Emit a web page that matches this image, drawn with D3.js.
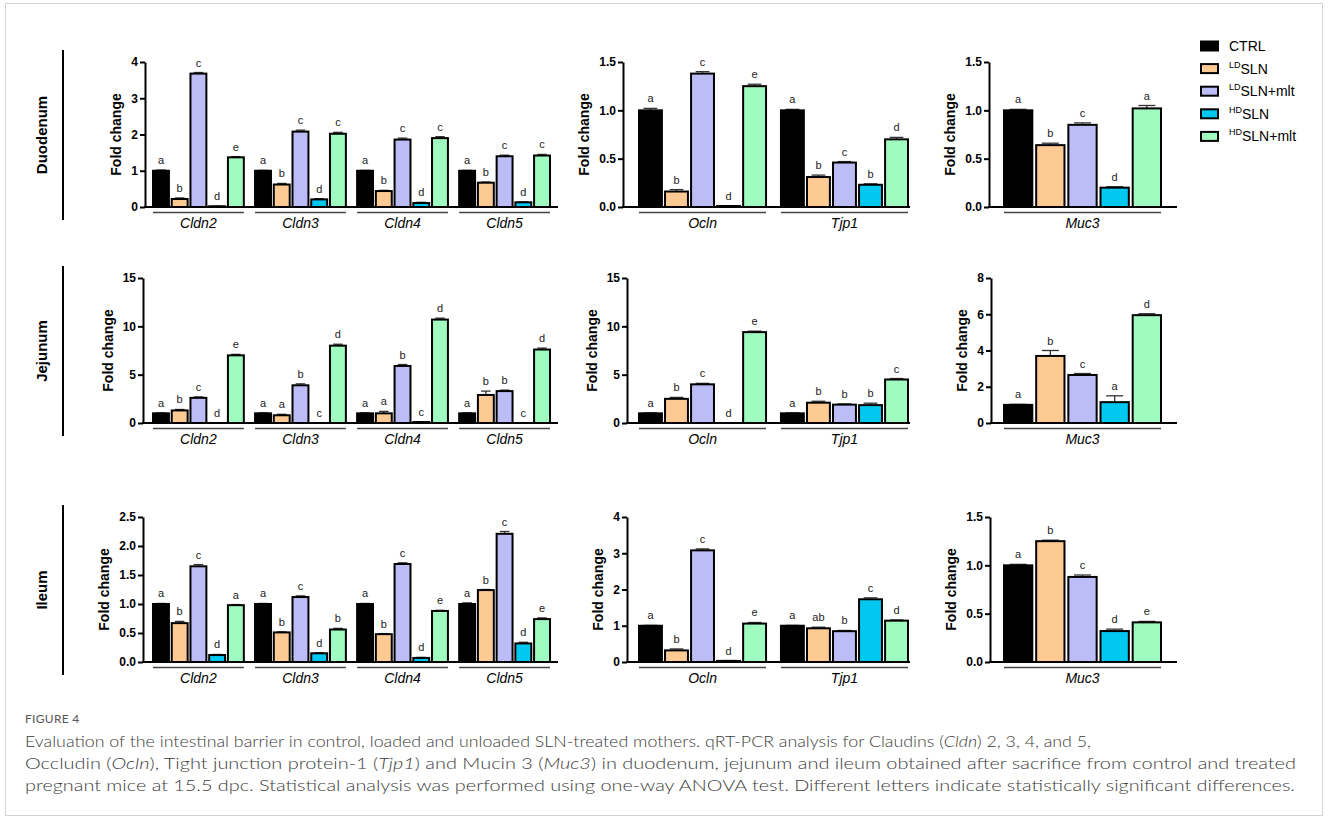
<!DOCTYPE html>
<html>
<head>
<meta charset="utf-8">
<script src="https://cdn.jsdelivr.net/npm/d3@7"></script>
<style>
  body { margin: 0; background: #fff; }
  svg text { font-family: Arial, "Liberation Sans", sans-serif; }
  .caption { font-family: Lato, "Open Sans", sans-serif; font-weight: 300; fill: #3c3c3c; }
</style>
</head>
<body>
<svg id="fig"></svg>
<script>
const W = 1328, H = 820;

const treatments = ['CTRL', 'LDSLN', 'LDSLN+mlt', 'HDSLN', 'HDSLN+mlt'];
const legendSup = ['', 'LD', 'LD', 'HD', 'HD'];
const legendBase = ['CTRL', 'SLN', 'SLN+mlt', 'SLN', 'SLN+mlt'];
const barColors = ['#000000', '#fdca94', '#bcbdf6', '#00c8f0', '#9ffbbf'];
const tissues = ['Duodenum', 'Jejunum', 'Ileum'];
const claudinGenes = ['Cldn2', 'Cldn3', 'Cldn4', 'Cldn5'];
const junctionGenes = ['Ocln', 'Tjp1'];
const mucinGenes = ['Muc3'];

// duodenum
const duoCldnMean = [[1.00, 0.22, 3.68, 0.02, 1.37], [1.00, 0.62, 2.08, 0.21, 2.02], [1.00, 0.44, 1.86, 0.11, 1.90], [1.00, 0.67, 1.40, 0.13, 1.42]];
const duoCldnErr = [[0.02, 0.03, 0.03, 0.00, 0.02], [0.01, 0.03, 0.04, 0.02, 0.04], [0.01, 0.02, 0.04, 0.02, 0.04], [0.01, 0.02, 0.03, 0.01, 0.03]];
const duoCldnLetters = [['a', 'b', 'c', 'd', 'e'], ['a', 'b', 'c', 'd', 'c'], ['a', 'b', 'c', 'd', 'c'], ['a', 'b', 'c', 'd', 'c']];
const duoJuncMean = [[1.00, 0.16, 1.38, 0.01, 1.25], [1.00, 0.31, 0.46, 0.23, 0.70]];
const duoJuncErr = [[0.02, 0.02, 0.02, 0.00, 0.02], [0.01, 0.02, 0.01, 0.01, 0.02]];
const duoJuncLetters = [['a', 'b', 'c', 'd', 'e'], ['a', 'b', 'c', 'b', 'd']];
const duoMucMean = [[1.00, 0.64, 0.85, 0.20, 1.02]];
const duoMucErr = [[0.01, 0.02, 0.02, 0.01, 0.03]];
const duoMucLetters = [['a', 'b', 'c', 'd', 'a']];

// jejunum
const jejCldnMean = [[1.0, 1.3, 2.6, 0.0, 7.0], [1.0, 0.8, 3.9, 0.0, 8.0], [1.0, 1.0, 5.9, 0.1, 10.7], [1.0, 2.9, 3.3, 0.0, 7.6]];
const jejCldnErr = [[0.05, 0.1, 0.1, 0, 0.1], [0.05, 0.1, 0.15, 0, 0.15], [0.05, 0.2, 0.15, 0.02, 0.15], [0.05, 0.4, 0.1, 0, 0.15]];
const jejCldnLetters = [['a', 'b', 'c', 'd', 'e'], ['a', 'a', 'b', 'c', 'd'], ['a', 'a', 'b', 'c', 'd'], ['a', 'b', 'b', 'c', 'd']];
const jejJuncMean = [[1.0, 2.5, 4.0, 0.0, 9.4], [1.0, 2.1, 1.9, 1.85, 4.5]];
const jejJuncErr = [[0.05, 0.15, 0.1, 0, 0.1], [0.05, 0.15, 0.08, 0.2, 0.1]];
const jejJuncLetters = [['a', 'b', 'c', 'd', 'e'], ['a', 'b', 'b', 'b', 'c']];
const jejMucMean = [[1.0, 3.7, 2.65, 1.15, 5.95]];
const jejMucErr = [[0.03, 0.3, 0.08, 0.35, 0.08]];
const jejMucLetters = [['a', 'b', 'c', 'a', 'd']];

// ileum
const ileCldnMean = [[1.00, 0.67, 1.65, 0.12, 0.98], [1.00, 0.51, 1.12, 0.15, 0.56], [1.00, 0.48, 1.69, 0.07, 0.88], [1.00, 1.24, 2.21, 0.32, 0.74]];
const ileCldnErr = [[0.01, 0.03, 0.03, 0.01, 0.01], [0.01, 0.01, 0.02, 0.01, 0.02], [0.01, 0.01, 0.02, 0.01, 0.01], [0.02, 0.01, 0.04, 0.02, 0.02]];
const ileCldnLetters = [['a', 'b', 'c', 'd', 'a'], ['a', 'b', 'c', 'd', 'b'], ['a', 'b', 'c', 'd', 'e'], ['a', 'b', 'c', 'd', 'e']];
const ileJuncMean = [[1.00, 0.32, 3.08, 0.03, 1.06], [1.00, 0.93, 0.85, 1.73, 1.14]];
const ileJuncErr = [[0.01, 0.04, 0.04, 0.01, 0.03], [0.01, 0.03, 0.02, 0.04, 0.02]];
const ileJuncLetters = [['a', 'b', 'c', 'd', 'e'], ['a', 'ab', 'b', 'c', 'd']];
const ileMucMean = [[1.00, 1.25, 0.88, 0.32, 0.41]];
const ileMucErr = [[0.01, 0.01, 0.02, 0.02, 0.01]];
const ileMucLetters = [['a', 'b', 'c', 'd', 'e']];

// y ticks
const duoCldnTicks = [0, 1, 2, 3, 4];
const duoJuncTicks = [0, 0.5, 1, 1.5];
const duoMucTicks = [0, 0.5, 1, 1.5];
const jejCldnTicks = [0, 5, 10, 15];
const jejJuncTicks = [0, 5, 10, 15];
const jejMucTicks = [0, 2, 4, 6, 8];
const ileCldnTicks = [0, 0.5, 1, 1.5, 2, 2.5];
const ileJuncTicks = [0, 1, 2, 3, 4];
const ileMucTicks = [0, 0.5, 1, 1.5];

const captionLines = [
  ['Evaluation of the intestinal barrier in control, loaded and unloaded SLN-treated mothers. qRT-PCR analysis for Claudins (', '*Cldn', ') 2, 3, 4, and 5,'],
  ['Occludin (', '*Ocln', '), Tight junction protein-1 (', '*Tjp1', ') and Mucin 3 (', '*Muc3', ') in duodenum, jejunum and ileum obtained after sacrifice from control and treated'],
  ['pregnant mice at 15.5 dpc. Statistical analysis was performed using one-way ANOVA test. Different letters indicate statistically significant differences.']
];

// layout
const rowTop = [62, 278, 517];
const rowZero = [207, 423, 662];
const axisX = [[145, 623, 989], [143, 627, 991], [143, 627, 990]];
const axisEnd = [558, 910, 1177];
const bandRange = [[153, 550], [639, 908], [1004, 1161]];
const groupPad = [0.11, 0.105, 0];
const barPad = [0.15, 0.12, 0.12];

const svg = d3.select('#fig').attr('width', W).attr('height', H);

svg.append('rect')
  .attr('x', 5.5).attr('y', 3.5).attr('width', 1317).attr('height', 812)
  .attr('fill', 'none').attr('stroke', '#d4d4d4').attr('stroke-width', 1);

const panels = [
  [duoCldnMean, duoCldnErr, duoCldnLetters, claudinGenes, duoCldnTicks, 0, 0],
  [duoJuncMean, duoJuncErr, duoJuncLetters, junctionGenes, duoJuncTicks, 0, 1],
  [duoMucMean, duoMucErr, duoMucLetters, mucinGenes, duoMucTicks, 0, 2],
  [jejCldnMean, jejCldnErr, jejCldnLetters, claudinGenes, jejCldnTicks, 1, 0],
  [jejJuncMean, jejJuncErr, jejJuncLetters, junctionGenes, jejJuncTicks, 1, 1],
  [jejMucMean, jejMucErr, jejMucLetters, mucinGenes, jejMucTicks, 1, 2],
  [ileCldnMean, ileCldnErr, ileCldnLetters, claudinGenes, ileCldnTicks, 2, 0],
  [ileJuncMean, ileJuncErr, ileJuncLetters, junctionGenes, ileJuncTicks, 2, 1],
  [ileMucMean, ileMucErr, ileMucLetters, mucinGenes, ileMucTicks, 2, 2]
];

function drawPanel([means, errs, letters, genes, ticks, r, c]) {
  const g = svg.append('g');
  const zero = rowZero[r];
  const ax = axisX[r][c];
  const y = d3.scaleLinear().domain([0, d3.max(ticks)]).range([zero, rowTop[r]]);
  const x = d3.scaleBand().domain(genes).range(bandRange[c]).paddingInner(groupPad[c]);
  const xi = d3.scaleBand().domain(d3.range(treatments.length)).range([0, x.bandwidth()]).paddingInner(barPad[c]);
  const bw = xi.bandwidth();

  const rows = [];
  genes.forEach((gene, gi) => {
    treatments.forEach((t, ti) => {
      rows.push({ gene, ti, v: means[gi][ti], e: errs[gi][ti], l: letters[gi][ti] });
    });
  });

  // error bars (drawn first so the bar outline covers the base)
  const eb = g.selectAll('.err').data(rows).join('g').attr('class', 'err')
    .attr('stroke', '#333').attr('stroke-width', 1.3);
  eb.append('line')
    .attr('x1', d => x(d.gene) + xi(d.ti) + bw / 2).attr('x2', d => x(d.gene) + xi(d.ti) + bw / 2)
    .attr('y1', d => y(d.v)).attr('y2', d => y(d.v + d.e));
  eb.append('line')
    .attr('x1', d => x(d.gene) + xi(d.ti) + bw * 0.2).attr('x2', d => x(d.gene) + xi(d.ti) + bw * 0.8)
    .attr('y1', d => y(d.v + d.e)).attr('y2', d => y(d.v + d.e));

  g.selectAll('.bar').data(rows).join('rect').attr('class', 'bar')
    .attr('x', d => x(d.gene) + xi(d.ti))
    .attr('y', d => y(d.v))
    .attr('width', bw)
    .attr('height', d => zero - y(d.v))
    .attr('fill', d => barColors[d.ti])
    .attr('stroke', '#000').attr('stroke-width', 2);

  g.selectAll('.sig').data(rows).join('text').attr('class', 'sig')
    .attr('x', d => x(d.gene) + xi(d.ti) + bw / 2)
    .attr('y', d => y(d.v + d.e) - 6)
    .attr('text-anchor', 'middle').attr('font-size', 11).attr('fill', '#222')
    .text(d => d.l);

  // axes
  const yAxis = g.append('g').attr('transform', `translate(${ax},0)`)
    .call(d3.axisLeft(y).tickValues(ticks).tickSize(5).tickSizeOuter(0)
      .tickFormat(d3.max(ticks) < 3 ? d3.format('.1f') : d3.format('d')));
  yAxis.select('.domain').attr('stroke', '#000').attr('stroke-width', 2);
  yAxis.selectAll('.tick line').attr('stroke', '#000').attr('stroke-width', 2);
  yAxis.selectAll('.tick text').attr('font-size', 12).attr('font-weight', 'bold')
    .attr('font-family', 'Arial, "Liberation Sans", sans-serif').attr('fill', '#000').attr('x', -7);

  g.append('line').attr('x1', ax - 1).attr('x2', axisEnd[c]).attr('y1', zero).attr('y2', zero)
    .attr('stroke', '#000').attr('stroke-width', 2);

  const bb = yAxis.node().getBBox();
  g.append('text')
    .attr('transform', `translate(${ax + bb.x - 10},${(zero + rowTop[r]) / 2}) rotate(-90)`)
    .attr('text-anchor', 'middle').attr('font-size', 14).attr('font-weight', 'bold')
    .text('Fold change');

  // gene underline + label
  g.selectAll('.under').data(genes).join('line').attr('class', 'under')
    .attr('x1', d => x(d)).attr('x2', d => x(d) + x.bandwidth())
    .attr('y1', zero + 5.5).attr('y2', zero + 5.5)
    .attr('stroke', '#444').attr('stroke-width', 1.5);
  g.selectAll('.gene').data(genes).join('text').attr('class', 'gene')
    .attr('x', d => x(d) + x.bandwidth() / 2).attr('y', zero + 21)
    .attr('text-anchor', 'middle').attr('font-size', 14).attr('font-style', 'italic')
    .text(d => d);
}

panels.forEach(drawPanel);

// tissue labels
tissues.forEach((t, i) => {
  const y0 = rowTop[i] - 12, y1 = rowZero[i] + 13;
  svg.append('line').attr('x1', 63).attr('x2', 63).attr('y1', y0).attr('y2', y1)
    .attr('stroke', '#000').attr('stroke-width', 2);
  svg.append('text')
    .attr('transform', `translate(47,${(y0 + y1) / 2}) rotate(-90)`)
    .attr('text-anchor', 'middle').attr('font-size', 15).attr('font-weight', 'bold')
    .text(t);
});

// legend
const legend = svg.append('g');
treatments.forEach((t, i) => {
  const ly = 46 + i * 22.6;
  legend.append('rect').attr('x', 1201).attr('y', ly - 4.5).attr('width', 17).attr('height', 9)
    .attr('fill', barColors[i]).attr('stroke', '#000').attr('stroke-width', 2);
  const txt = legend.append('text').attr('x', 1229).attr('y', ly + 5).attr('font-size', 14);
  if (legendSup[i]) {
    txt.append('tspan').attr('font-size', 9).attr('dy', -6).text(legendSup[i]);
    txt.append('tspan').attr('dy', 6).text(legendBase[i]);
  } else {
    txt.text(legendBase[i]);
  }
});

// caption
svg.append('text').attr('class', 'caption').attr('x', 25).attr('y', 723)
  .attr('font-size', 12).attr('letter-spacing', 0.3).style('font-weight', 400).style('fill', '#555').text('FIGURE 4');
const capLens = [1066, 1271, 1270];
captionLines.forEach((parts, i) => {
  const t = svg.append('text').attr('class', 'caption').attr('x', 25).attr('y', 747 + i * 22)
    .attr('font-size', 16.5).attr('textLength', capLens[i]).attr('lengthAdjust', 'spacingAndGlyphs');
  parts.forEach(p => {
    const it = p.startsWith('*');
    t.append('tspan').attr('font-style', it ? 'italic' : null).text(it ? p.slice(1) : p);
  });
});
</script>
</body>
</html>
